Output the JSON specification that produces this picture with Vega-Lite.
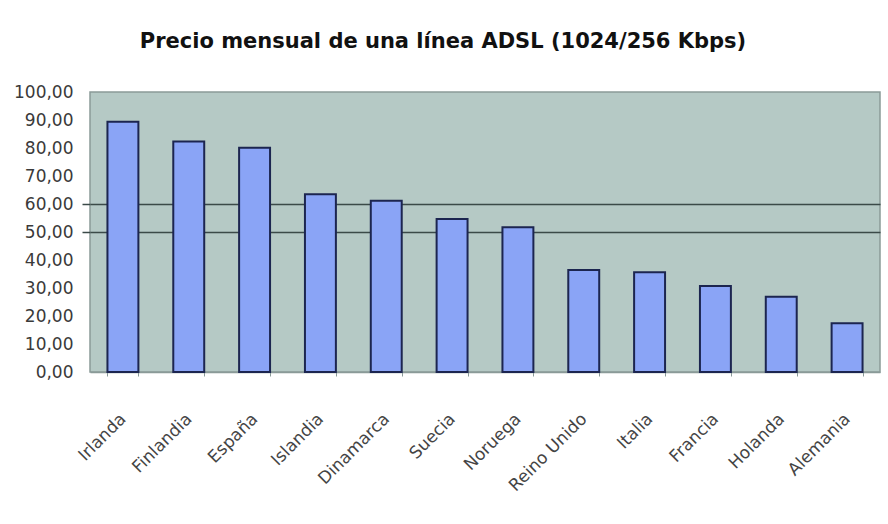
{
  "$schema": "https://vega.github.io/schema/vega-lite/v6.json",
  "width": 790,
  "height": 280,
  "autosize": {"type": "none"},
  "padding": {"left": 90, "top": 92, "right": 8, "bottom": 152},
  "background": "#ffffff",
  "title": {
    "text": "Precio mensual de una línea ADSL (1024/256 Kbps)",
    "font": "DejaVu Sans",
    "fontSize": 21,
    "fontWeight": "bold",
    "color": "#111111",
    "anchor": "middle",
    "dx": -42,
    "offset": 31
  },
  "data": {
    "values": [
      {"pais": "Irlanda", "precio": 89.4},
      {"pais": "Finlandia", "precio": 82.3},
      {"pais": "España", "precio": 80.1},
      {"pais": "Islandia", "precio": 63.5},
      {"pais": "Dinamarca", "precio": 61.2},
      {"pais": "Suecia", "precio": 54.6},
      {"pais": "Noruega", "precio": 51.7},
      {"pais": "Reino Unido", "precio": 36.4},
      {"pais": "Italia", "precio": 35.6},
      {"pais": "Francia", "precio": 30.7},
      {"pais": "Holanda", "precio": 26.9},
      {"pais": "Alemania", "precio": 17.4}
    ]
  },
  "mark": {"type": "bar", "fill": "#8aa4f6", "stroke": "#1c2550", "strokeWidth": 2},
  "encoding": {
    "x": {
      "field": "pais",
      "type": "nominal",
      "sort": null,
      "scale": {"paddingInner": 0.53, "paddingOuter": 0.265},
      "axis": {
        "title": null,
        "labelAngle": -45,
        "labelAlign": "right",
        "labelBaseline": "middle",
        "labelPadding": 40,
        "labelFont": "DejaVu Sans",
        "labelFontSize": 17,
        "labelColor": "#444444",
        "tickBand": "extent",
        "tickSize": 4,
        "tickColor": "#8a9a98",
        "domainColor": "#8a9a98",
        "domainWidth": 1.5
      }
    },
    "y": {
      "field": "precio",
      "type": "quantitative",
      "scale": {"domain": [0, 100], "nice": false},
      "axis": {
        "title": null,
        "values": [0, 10, 20, 30, 40, 50, 60, 70, 80, 90, 100],
        "labelExpr": "replace(format(datum.value, '.2f'), '.', ',')",
        "labelFont": "DejaVu Sans",
        "labelFontSize": 17,
        "labelColor": "#3a3a3a",
        "labelPadding": 9,
        "tickSize": 8,
        "tickColor": {"condition": {"test": "datum.value == 50 || datum.value == 60", "value": "#3b4a48"}, "value": "transparent"},
        "tickWidth": 1.5,
        "grid": true,
        "gridColor": {"condition": {"test": "datum.value == 50 || datum.value == 60", "value": "#3b4a48"}, "value": "transparent"},
        "gridWidth": 1.5,
        "domain": false
      }
    }
  },
  "config": {
    "view": {"fill": "#b5c9c5", "stroke": "#8a9a98", "strokeWidth": 1.5}
  }
}
